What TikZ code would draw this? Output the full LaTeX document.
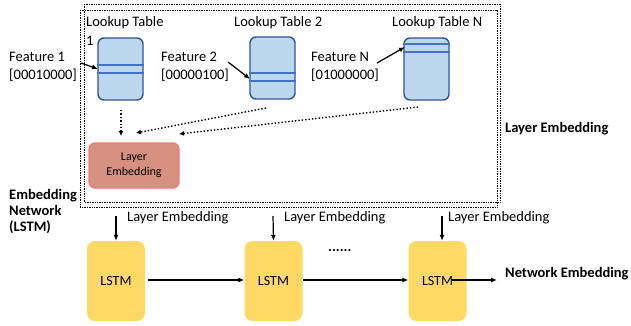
\documentclass[tikz,border=0pt]{standalone}
\usepackage{fontspec}
\setmainfont{Carlito}
\usetikzlibrary{arrows.meta}
\definecolor{tblfill}{HTML}{BDD7EE}
\definecolor{tbldraw}{HTML}{2F5597}
\definecolor{tblband}{HTML}{4472C4}
\definecolor{lefill}{HTML}{D6907F}
\definecolor{ledraw}{HTML}{F07C6C}
\definecolor{lstmfill}{HTML}{FFD966}
\tikzset{
  tablebox/.style={draw=tbldraw, fill=tblfill, line width=1.4pt, rounded corners=6pt, minimum width=45pt, minimum height=62pt, inner sep=0pt},
  band/.style={draw=tblband, line width=1.3pt},
  lbl/.style={font=\fontsize{14.5}{18}\selectfont, inner sep=0pt, anchor=west},
  boldlbl/.style={font=\fontsize{14.5}{16}\selectfont\bfseries, inner sep=0pt, anchor=west},
  lstmbox/.style={fill=lstmfill, rounded corners=8pt, minimum width=58pt, minimum height=80pt, inner sep=0pt, font=\fontsize{14}{16}\selectfont},
  solidarrow/.style={-{Latex[length=6pt,width=5pt]}, line width=1.2pt},
  dotarrow/.style={-{Latex[length=5pt,width=5pt]}, line width=1.4pt, dotted},
  framebox/.style={draw, densely dotted, line width=0.7pt}
}
\begin{document}
\begin{tikzpicture}[x=1pt,y=-1pt]
\useasboundingbox (0,0) rectangle (631,326);
% dotted frames
\draw[framebox] (84,4) rectangle (500,202);
\draw[framebox] (80,10) rectangle (497,207);
% lookup tables
\node[tablebox] (lt1) at (120.5,69) {};
\node[tablebox] (lt2) at (272.5,68) {};
\node[tablebox] (ltn) at (426.5,69) {};
\draw[band] (lt1.west |- 0,65) -- (lt1.east |- 0,65);
\draw[band] (lt1.west |- 0,73) -- (lt1.east |- 0,73);
\draw[band] (lt2.west |- 0,73) -- (lt2.east |- 0,73);
\draw[band] (lt2.west |- 0,81) -- (lt2.east |- 0,81);
\draw[band] (ltn.west |- 0,44) -- (ltn.east |- 0,44);
\draw[band] (ltn.west |- 0,52) -- (ltn.east |- 0,52);
% table titles
\node[lbl] (t1a) at (86,23) {Lookup Table};
\node[lbl] (t1b) at (86,41) {1};
\node[lbl] (t2) at (234,23) {Lookup Table 2};
\node[lbl] (tn) at (392,23) {Lookup Table N};
% features
\node[lbl, align=left, anchor=north west] (f1) at (9,52) {Feature 1\\{}[00010000]};
\node[lbl, align=left, anchor=north west] (f2) at (161,52) {Feature 2\\{}[00000100]};
\node[lbl, align=left, anchor=north west] (fn) at (311,52) {Feature N\\{}[01000000]};
\coordinate (f1s) at (81,63);
\coordinate (f2s) at (228,62);
\coordinate (fns) at (377,63);
\coordinate (lt1in) at (98,69);
\coordinate (lt2in) at (250,79);
\coordinate (ltnin) at (405,47);
\draw[solidarrow] (f1s) -- (lt1in);
\draw[solidarrow] (f2s) -- (lt2in);
\draw[solidarrow] (fns) -- (ltnin);
% layer embedding box
\node[draw=ledraw, fill=lefill, line width=1.3pt, rounded corners=6pt, minimum width=90pt, minimum height=45pt, inner sep=0pt, align=center, font=\fontsize{12}{15}\selectfont] (le) at (134,165.5) {Layer\\Embedding};
\coordinate (d1s) at (121,110);
\coordinate (d1e) at (121,136);
\coordinate (d2s) at (266,108);
\coordinate (d2e) at (136,133);
\coordinate (d3s) at (418,107);
\coordinate (d3e) at (179,134);
\draw[dotarrow] (d1s) -- (d1e);
\draw[dotarrow] (d2s) -- (d2e);
\draw[dotarrow] (d3s) -- (d3e);
\node[boldlbl] (lelbl) at (505,129) {Layer Embedding};
\node[boldlbl, align=left, anchor=north west] (enet) at (9,189) {Embedding\\Network\\(LSTM)};
% LSTM boxes
\node[lstmbox] (l1) at (116,281) {LSTM};
\node[lstmbox] (l2) at (273.5,281) {LSTM};
\node[lstmbox] (l3) at (437.5,281) {LSTM};
\coordinate (in1) at (116,216);
\coordinate (in2) at (273,216);
\coordinate (in3) at (442,216);
\draw[solidarrow] (in1) -- (l1.north);
\draw[solidarrow] (in2) -- (l2.north);
\draw[solidarrow] (in3) -- (l3.north -| in3);
\node[lbl] (le1) at (127,218) {Layer Embedding};
\node[lbl] (le2) at (284,218) {Layer Embedding};
\node[lbl] (le3) at (448,218) {Layer Embedding};
\coordinate (h1s) at (148,280);
\coordinate (h2s) at (303,280);
\coordinate (h3s) at (452,280);
\coordinate (h3e) at (497,280);
\draw[solidarrow] (h1s) -- (l2.west |- h1s);
\draw[solidarrow] (h2s) -- (l3.west |- h2s);
\draw[solidarrow] (h3s) -- (h3e);
\node[lbl, font=\fontsize{14.5}{18}\selectfont\bfseries] (dots) at (328,251) {......};
\node[boldlbl] (netemb) at (505,274) {Network Embedding};
\end{tikzpicture}
\end{document}
